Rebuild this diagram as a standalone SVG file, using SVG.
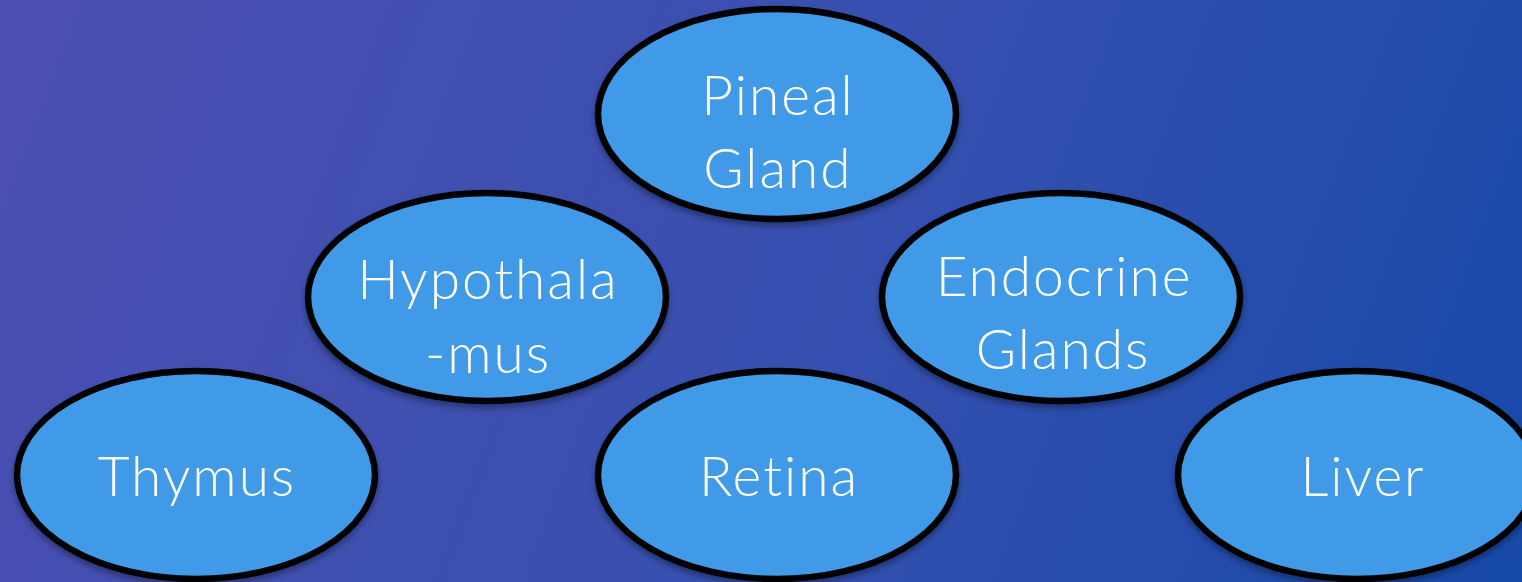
<svg xmlns="http://www.w3.org/2000/svg" width="1522" height="582" viewBox="0 0 1522 582">
<defs>
<linearGradient id="bg" x1="0" y1="0" x2="1522" y2="582" gradientUnits="userSpaceOnUse">
<stop offset="0" stop-color="#4b4fb1"/>
<stop offset="0.55" stop-color="#3650b0"/>
<stop offset="1" stop-color="#1649a9"/>
</linearGradient>
<filter id="sh" x="-10%" y="-10%" width="120%" height="125%">
<feDropShadow dx="0" dy="4" stdDeviation="3" flood-color="#000" flood-opacity="0.35"/>
</filter>
</defs>
<style>
.node ellipse{fill:#3f9ae8;stroke:#000;stroke-width:6.5;filter:url(#sh)}
.node text{fill:#fff;font-family:Lato,"Liberation Sans",sans-serif;font-weight:300;font-size:55px;letter-spacing:2px;text-anchor:middle}
</style>
<rect width="1522" height="582" fill="url(#bg)"/>
<g id="connectors"/>
<g id="pineal" class="node">
<ellipse cx="777" cy="114" rx="179" ry="105"/>
<text x="778" y="115">Pineal</text>
<text x="778" y="188">Gland</text>
</g>
<g id="hypothalamus" class="node">
<ellipse cx="487" cy="297" rx="179" ry="104"/>
<text x="488" y="299">Hypothala</text>
<text x="488" y="373">-mus</text>
</g>
<g id="endocrine" class="node">
<ellipse cx="1061" cy="297" rx="179" ry="104"/>
<text x="1064" y="296">Endocrine</text>
<text x="1063" y="369">Glands</text>
</g>
<g id="thymus" class="node">
<ellipse cx="196" cy="475" rx="179" ry="104"/>
<text x="197" y="496">Thymus</text>
</g>
<g id="retina" class="node">
<ellipse cx="777" cy="475" rx="179" ry="104"/>
<text x="779" y="496">Retina</text>
</g>
<g id="liver" class="node">
<ellipse cx="1357" cy="475" rx="179" ry="104"/>
<text x="1363" y="496">Liver</text>
</g>
</svg>
